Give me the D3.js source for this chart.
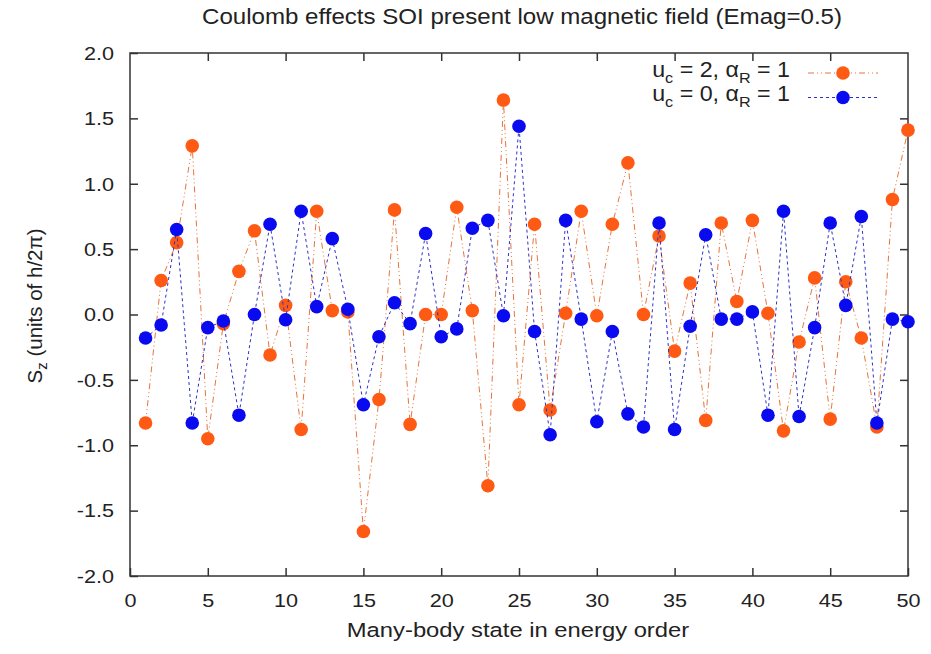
<!DOCTYPE html>
<html>
  <head>
    <meta charset="utf-8">
    <title>Coulomb effects SOI</title>
    <script src="https://d3js.org/d3.v7.min.js"></script>
    <style>
      body { margin: 0; background: #fff; }
      svg text { font-family: "Liberation Sans", Arial, sans-serif; fill: #222; }
    </style>
  </head>
  <body>
    <svg id="chart" width="931" height="654"></svg>
    <script>
      // data
      var states = d3.range(1, 51);
      var uc2 = [-0.83, 0.26, 0.55, 1.29, -0.95, -0.07, 0.33, 0.64, -0.31, 0.07,
                 -0.88, 0.79, 0.03, 0.02, -1.66, -0.65, 0.80, -0.84, 0.00, 0.00,
                 0.82, 0.03, -1.31, 1.64, -0.69, 0.69, -0.73, 0.01, 0.79, -0.01,
                 0.69, 1.16, 0.00, 0.60, -0.28, 0.24, -0.81, 0.70, 0.10, 0.72,
                 0.01, -0.89, -0.21, 0.28, -0.80, 0.25, -0.18, -0.86, 0.88, 1.41];
      var uc0 = [-0.18, -0.08, 0.65, -0.83, -0.10, -0.05, -0.77, 0.00, 0.69, -0.04,
                 0.79, 0.06, 0.58, 0.04, -0.69, -0.17, 0.09, -0.07, 0.62, -0.17,
                 -0.11, 0.66, 0.72, -0.01, 1.44, -0.13, -0.92, 0.72, -0.035, -0.82,
                 -0.13, -0.76, -0.86, 0.70, -0.88, -0.09, 0.61, -0.035, -0.035, 0.02,
                 -0.77, 0.79, -0.78, -0.10, 0.70, 0.07, 0.75, -0.83, -0.035, -0.055];
      var xTicks = [0, 5, 10, 15, 20, 25, 30, 35, 40, 45, 50];
      var yTicks = [-2.0, -1.5, -1.0, -0.5, 0.0, 0.5, 1.0, 1.5, 2.0];

      var series = [
        { name: "2", values: uc2, dot: "#ff5a14", line: "#e8743a", dash: "6,3,1,3,1,3" },
        { name: "0", values: uc0, dot: "#0a0af0", line: "#3030c8", dash: "3,3" }
      ];

      var svg = d3.select("#chart");
      var plotL = 130, plotR = 908, plotT = 53, plotB = 576;

      var x = d3.scaleLinear().domain([0, 50]).range([plotL, plotR]);
      var y = d3.scaleLinear().domain([-2, 2]).range([plotB, plotT]);

      // the reference text is a bit wider than Liberation Sans, so stretch it
      function stretch(sel, k) {
        sel.each(function() {
          var len = this.getComputedTextLength();
          d3.select(this)
            .attr("textLength", len * k)
            .attr("lengthAdjust", "spacingAndGlyphs");
        });
      }

      // ticks on all four sides, pointing inward
      var tickLen = 8;
      var fmt = function(d) { return d3.format(".1f")(d).replace("\u2212", "-"); };
      var xAxis = svg.append("g")
        .attr("transform", "translate(0," + plotB + ")")
        .call(d3.axisBottom(x).tickValues(xTicks).tickSize(-tickLen).tickSizeOuter(0))
        .call(function(g) { g.select(".domain").remove(); });
      xAxis.selectAll(".tick text").attr("y", 31).attr("dy", 0);
      svg.append("g")
        .attr("transform", "translate(0," + plotT + ")")
        .call(d3.axisTop(x).tickValues(xTicks.slice(1, -1)).tickSize(-tickLen).tickFormat("").tickSizeOuter(0))
        .call(function(g) { g.select(".domain").remove(); });
      var yAxis = svg.append("g")
        .attr("transform", "translate(" + plotL + ",0)")
        .call(d3.axisLeft(y).tickValues(yTicks).tickSize(-tickLen).tickFormat(fmt).tickSizeOuter(0))
        .call(function(g) { g.select(".domain").remove(); });
      yAxis.selectAll(".tick text").attr("x", -16).attr("dy", "0.35em");
      svg.append("g")
        .attr("transform", "translate(" + plotR + ",0)")
        .call(d3.axisRight(y).tickValues(yTicks.slice(1, -1)).tickSize(-tickLen).tickFormat("").tickSizeOuter(0))
        .call(function(g) { g.select(".domain").remove(); });

      svg.selectAll(".tick line").attr("stroke", "#333").attr("stroke-width", 1.5);
      svg.selectAll(".tick text")
        .attr("font-size", 18)
        .style("font-family", "Liberation Sans, Arial, sans-serif")
        .attr("fill", "#222")
        .call(stretch, 1.2);

      svg.append("rect")
        .attr("x", plotL).attr("y", plotT)
        .attr("width", plotR - plotL).attr("height", plotB - plotT)
        .attr("fill", "none").attr("stroke", "#333").attr("stroke-width", 1.5);

      // series
      var line = d3.line()
        .x(function(d, i) { return x(states[i]); })
        .y(function(d) { return y(d); });

      series.forEach(function(s) {
        svg.append("path")
          .datum(s.values)
          .attr("d", line)
          .attr("fill", "none")
          .attr("stroke", s.line)
          .attr("stroke-width", 1)
          .attr("stroke-dasharray", s.dash);
        svg.append("g")
          .selectAll("circle")
          .data(s.values)
          .enter().append("circle")
            .attr("cx", function(d, i) { return x(states[i]); })
            .attr("cy", function(d) { return y(d); })
            .attr("r", 6.8)
            .attr("fill", s.dot);
      });

      // legend
      var legend = svg.append("g");
      series.forEach(function(s, i) {
        var ly = 73 + i * 24.5;
        var t = legend.append("text")
          .attr("x", 790).attr("y", ly + 3.5)
          .attr("text-anchor", "end")
          .attr("font-size", 21.5);
        t.append("tspan").text("u");
        t.append("tspan").attr("font-size", 15).attr("dy", 6).text("c");
        t.append("tspan").attr("dy", -6).text(" = " + s.name + ", \u03b1");
        t.append("tspan").attr("font-size", 15).attr("dy", 6).text("R");
        t.append("tspan").attr("dy", -6).text(" = 1");
        t.call(stretch, 1.08);
        legend.append("line")
          .attr("x1", 808).attr("x2", 878)
          .attr("y1", ly).attr("y2", ly)
          .attr("stroke", s.line)
          .attr("stroke-width", 1)
          .attr("stroke-dasharray", s.dash);
        legend.append("circle")
          .attr("cx", 843).attr("cy", ly)
          .attr("r", 6.8)
          .attr("fill", s.dot);
      });

      // titles
      svg.append("text")
        .attr("x", 522).attr("y", 24)
        .attr("text-anchor", "middle")
        .attr("font-size", 21.5)
        .text("Coulomb effects SOI present low magnetic field (Emag=0.5)")
        .call(stretch, 1.12);
      svg.append("text")
        .attr("x", 518).attr("y", 637)
        .attr("text-anchor", "middle")
        .attr("font-size", 20.5)
        .text("Many-body state in energy order")
        .call(stretch, 1.16);
      var yl = svg.append("text")
        .attr("transform", "translate(42,306) rotate(-90)")
        .attr("text-anchor", "middle")
        .attr("font-size", 20.5);
      yl.append("tspan").text("S");
      yl.append("tspan").attr("font-size", 15).attr("dy", 5).text("z");
      yl.append("tspan").attr("dy", -5).text(" (units of h/2\u03c0)");
    </script>
  </body>
</html>
